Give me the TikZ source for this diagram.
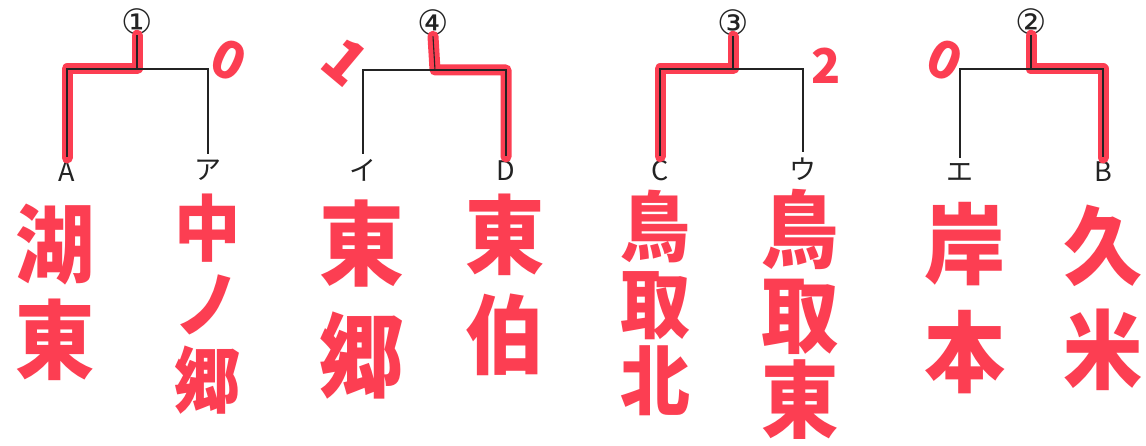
\documentclass[tikz,border=0pt]{standalone}
\usepackage{fontspec}
\newfontfamily\cjk{Noto Sans CJK JP}
\newfontfamily\dejavu{DejaVu Sans}
\definecolor{pen}{RGB}{252,62,82}
\definecolor{ink}{RGB}{35,35,35}
\begin{document}
\begin{tikzpicture}[x=1pt,y=-1pt,
  bline/.style={draw=ink,line width=1.1pt},
  win/.style={draw=pen,line width=11pt,line cap=round,line join=round},
  seed/.style={font=\dejavu\fontsize{35}{35}\selectfont,inner sep=0pt,text=ink},
  lab/.style={font=\cjk\fontsize{27}{27}\selectfont,inner sep=0pt,text=ink},
  score/.style={font=\cjk\bfseries\fontsize{#1}{#1}\selectfont,text=pen,inner sep=0pt},
  team/.style n args={2}{font=\cjk\bfseries\fontsize{#1}{#2}\selectfont,text=pen,align=center,inner sep=0pt,xscale=0.92},
]
\useasboundingbox[fill=white] (0,0) rectangle (1146,446);

% ---------- bracket 1 ----------
\node[seed] (s1) at (137,22) {①};
\coordinate (j1) at (137,69);
\node[lab] (A) at (67,172) {A};
\node[lab] (a) at (208,170) {ア};
\draw[win,shorten <=4pt] (A.north) |- (j1) -- (s1.south);
\draw[bline] (s1.south) -- (j1);
\draw[bline,shorten <=5pt,shorten >=5pt] (A.north) |- (j1) -| (a.north);
\node[score=52,rotate=-25] (p1) at (229,60) {0};
\node[team={86}{96}] (tA) at (55,292) {湖\\東};
\node[team={72}{76}] (ta) at (208,304) {中\\ノ\\郷};

% ---------- bracket 2 ----------
\node[seed] (s4) at (433,23) {④};
\coordinate (j4) at (435,70);
\node[lab] (i) at (363,170) {イ};
\node[lab] (D) at (506,171) {D};
\draw[win,shorten >=4pt] (s4.south) -- (j4) -| (D.north);
\draw[bline] (s4.south) -- (j4);
\draw[bline,shorten <=5pt,shorten >=5pt] (i.north) |- (j4) -| (D.north);
\node[score=60,rotate=-40] (p2) at (345,62) {1};
\node[team={92}{112}] (ti) at (362,300) {東\\郷};
\node[team={86}{100}] (tD) at (505,285) {東\\伯};

% ---------- bracket 3 ----------
\node[seed] (s3) at (733,23) {③};
\coordinate (j3) at (733,69);
\node[lab] (C) at (660,171) {C};
\node[lab] (u) at (803,169) {ウ};
\draw[win,shorten <=4pt] (C.north) |- (j3) -- (s3.south);
\draw[bline] (s3.south) -- (j3);
\draw[bline,shorten <=5pt,shorten >=5pt] (C.north) |- (j3) -| (u.north);
\node[score=48] (p3) at (826,66) {2};
\node[team={76}{77}] (tC) at (655,303) {鳥\\取\\北};
\node[team={84}{85}] (tu) at (800,314) {鳥\\取\\東};

% ---------- bracket 4 ----------
\node[seed] (s2) at (1031,22) {②};
\coordinate (j2) at (1031,69);
\node[lab] (e) at (960,172) {エ};
\node[lab] (B) at (1103,172) {B};
\draw[win,shorten >=4pt] (s2.south) -- (j2) -| (B.north);
\draw[bline] (s2.south) -- (j2);
\draw[bline,shorten <=5pt,shorten >=5pt] (e.north) |- (j2) -| (B.north);
\node[score=52,rotate=-25] (p4) at (945,60) {0};
\node[team={88}{108}] (te) at (965,298) {岸\\本};
\node[team={86}{104}] (tB) at (1103,298) {久\\米};
\end{tikzpicture}
\end{document}
